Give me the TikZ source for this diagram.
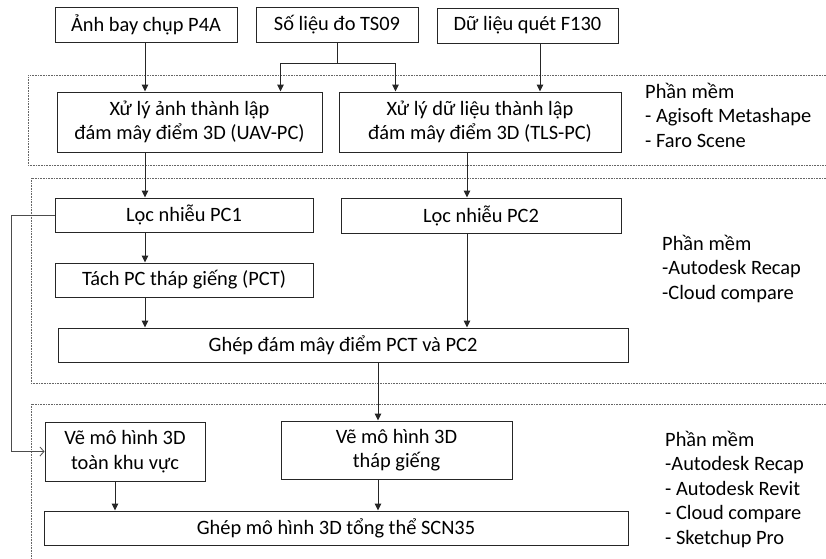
\documentclass[tikz,border=0pt]{standalone}
\usepackage{fontspec}
\setmainfont{Carlito}
\usetikzlibrary{arrows.meta,positioning}
\begin{document}
\begin{tikzpicture}[x=1pt,y=-1pt,
  every node/.style={font=\fontsize{20.4}{24.4}\selectfont},
  stepbox/.style={draw=black!85,line width=1pt,inner sep=0pt,align=center},
  arr/.style={draw=black!85,line width=1pt,-{Triangle[length=7pt,width=6.5pt]}},
  fb/.style={draw=black!70,line width=0.8pt,-{Straight Barb[length=4pt,width=9pt]}},
  zone/.style={draw=black!60,line width=0.7pt,dash pattern=on 0.8pt off 0.8pt},
  note/.style={anchor=north west,align=left,inner sep=0pt}]
\useasboundingbox (0,0) rectangle (826,558);

% processing zones
\draw[zone] (826,75) -- (28,75) -- (28,165) -- (826,165);
\draw[zone] (826,178) -- (31,178) -- (31,383) -- (826,383);
\draw[zone] (826,404) -- (31,404) -- (31,560);

% input data
\node[stepbox,minimum width=182,minimum height=35] (p4a)  at (146,25)   {Ảnh bay chụp P4A};
\node[stepbox,minimum width=162,minimum height=35] (ts09) at (337,25)   {Số liệu đo TS09};
\node[stepbox,minimum width=181,minimum height=35] (f130) at (527.5,25.5) {Dữ liệu quét F130};

% point cloud generation
\node[stepbox,minimum width=265,minimum height=60] (uav) at (189.5,122) {Xử lý ảnh thành lập\\đám mây điểm 3D (UAV-PC)};
\node[stepbox,minimum width=282,minimum height=60] (tls) at (480,122)   {Xử lý dữ liệu thành lập\\đám mây điểm 3D (TLS-PC)};

% filtering and merging
\node[stepbox,minimum width=258,minimum height=34] (pc1)  at (184,215)   {Lọc nhiễu PC1};
\node[stepbox,minimum width=280,minimum height=35] (pc2)  at (481,215.5) {Lọc nhiễu PC2};
\node[stepbox,minimum width=258,minimum height=34] (tach) at (184,280)   {Tách PC tháp giếng (PCT)};
\node[stepbox,minimum width=570,minimum height=34] (ghep1) at (343,345)  {Ghép đám mây điểm PCT và PC2};

% modelling
\node[stepbox,minimum width=160,minimum height=59] (vetoan) at (125,451.5) {Vẽ mô hình 3D\\toàn khu vực};
\node[stepbox,minimum width=231,minimum height=58] (vethap) at (396.5,450) {Vẽ mô hình 3D\\tháp giếng};
\node[stepbox,minimum width=584,minimum height=34] (ghep2)  at (336,528)   {Ghép mô hình 3D tổng thể SCN35};

% software notes
\node[note] (sw1) at (645,83)  {Phần mềm\\ - Agisoft Metashape\\ - Faro Scene};
\node[note] (sw2) at (662,235) {Phần mềm\\-Autodesk Recap\\-Cloud compare};
\node[note] (sw3) at (665,431) {Phần mềm\\-Autodesk Recap\\ - Autodesk Revit\\ - Cloud compare\\ - Sketchup Pro};

% column guides for the connectors
\coordinate (xA) at (145,0);
\coordinate (xB) at (467,0);
\coordinate (xC) at (378,0);
\coordinate (xD) at (115,0);

% connectors
\draw[arr] (xA |- p4a.south) -- (xA |- uav.north);
\draw[draw=black!85,line width=1pt] (ts09.south) -- ++(0,20) coordinate (split);
\draw[arr] (split) -| ([xshift=-42pt]uav.north east);
\draw[arr] (split) -| ([xshift=57pt]tls.north west);
\draw[arr] ([xshift=12.5pt]f130.south) -- ([xshift=12.5pt]f130.south |- tls.north);

\draw[arr] (xA |- uav.south) -- (xA |- pc1.north);
\draw[arr] (xB |- tls.south) -- (xB |- pc2.north);
\draw[arr] (xA |- pc1.south) -- (xA |- tach.north);
\draw[arr] (xA |- tach.south) -- (xA |- ghep1.north);
\draw[arr] (xB |- pc2.south) -- (xB |- ghep1.north);
\draw[arr] (xC |- ghep1.south) -- (xC |- vethap.north);
\draw[arr] (xD |- vetoan.south) -- (xD |- ghep2.north);
\draw[arr] (xC |- vethap.south) -- (xC |- ghep2.north);

\draw[fb] (pc1.west) -- ++(-43,0) |- (vetoan.west);
\end{tikzpicture}
\end{document}
